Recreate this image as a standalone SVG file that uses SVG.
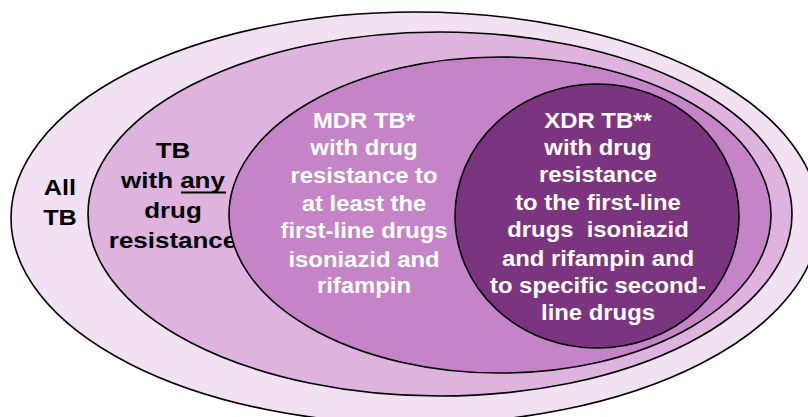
<svg xmlns="http://www.w3.org/2000/svg" width="808" height="417" viewBox="0 0 808 417">
  <style>
    .ell { stroke: #000; stroke-width: 1.6; }
    .dark { font-family: "Liberation Sans", Arial, sans-serif; font-weight: bold; font-size: 22px; fill: #000; text-anchor: middle; }
    .light { font-family: "Liberation Sans", Arial, sans-serif; font-weight: bold; font-size: 21.5px; fill: #fff; text-anchor: middle; }
  </style>
  <rect width="808" height="417" fill="#fff"/>

  <g id="all-tb">
    <ellipse class="ell" cx="415" cy="218" rx="404" ry="206" fill="#F2E1F2"/>
    <g transform="translate(60 0) scale(1.15 1)">
      <text class="dark" x="0" y="195">All</text>
      <text class="dark" x="0" y="225">TB</text>
    </g>
  </g>

  <g id="any-resistance">
    <ellipse class="ell" cx="440" cy="214" rx="352" ry="182" fill="#DEB3DE"/>
    <g transform="translate(173 0) scale(1.18 1)">
      <text class="dark" x="0" y="158">TB</text>
      <text class="dark" x="0" y="188">with any</text>
      <text class="dark" x="0" y="218">drug</text>
      <text class="dark" x="0" y="248">resistance</text>
    </g>
    <line x1="181" y1="192.5" x2="226" y2="192.5" stroke="#000" stroke-width="2"/>
  </g>

  <g id="mdr-tb">
    <ellipse class="ell" cx="500" cy="215" rx="271" ry="158" fill="#C584C7"/>
    <g transform="translate(364 0) scale(1.11 1)">
      <text class="light" x="0" y="128">MDR TB*</text>
      <text class="light" x="0" y="155">with drug</text>
      <text class="light" x="0" y="183">resistance to</text>
      <text class="light" x="0" y="211">at least the</text>
      <text class="light" x="0" y="238">first-line drugs</text>
      <text class="light" x="0" y="267">isoniazid and</text>
      <text class="light" x="0" y="293">rifampin</text>
    </g>
  </g>

  <g id="xdr-tb">
    <ellipse class="ell" cx="597" cy="216" rx="142" ry="132" fill="#7B3580"/>
    <g transform="translate(598 0) scale(1.11 1)">
      <text class="light" x="0" y="128">XDR TB**</text>
      <text class="light" x="0" y="155">with drug</text>
      <text class="light" x="0" y="182">resistance</text>
      <text class="light" x="0" y="210">to the first-line</text>
      <text class="light" x="0" y="237" xml:space="preserve">drugs  isoniazid</text>
      <text class="light" x="0" y="266">and rifampin and</text>
      <text class="light" x="0" y="293">to specific second-</text>
      <text class="light" x="0" y="320">line drugs</text>
    </g>
  </g>

  <g id="connectors"></g>
</svg>
